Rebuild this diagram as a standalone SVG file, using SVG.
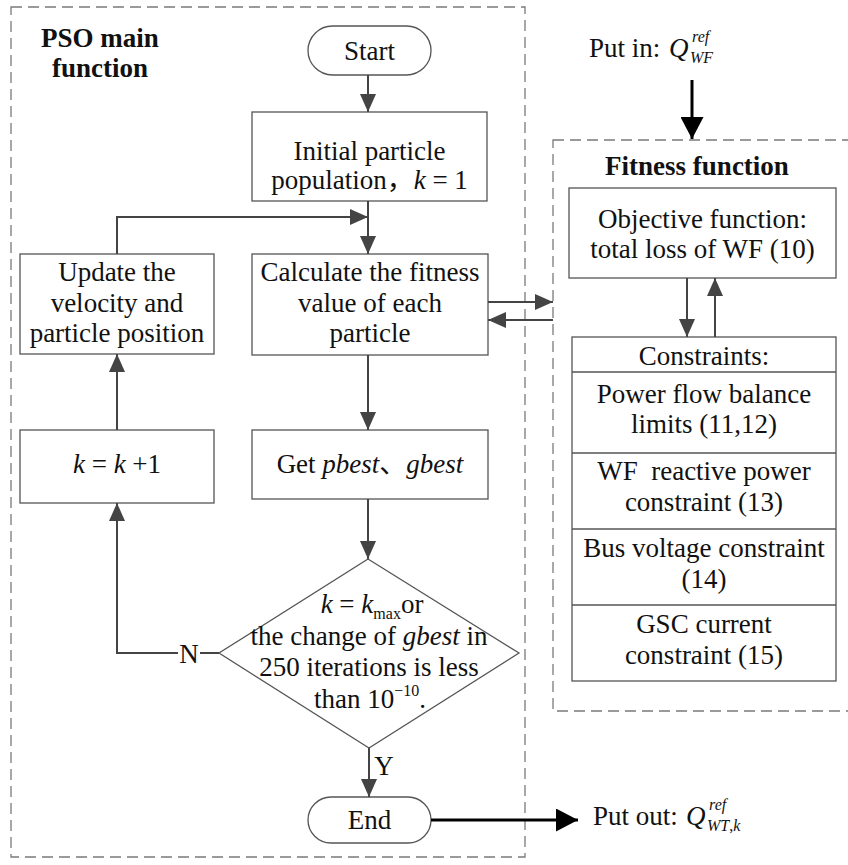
<svg xmlns="http://www.w3.org/2000/svg" width="848" height="865" viewBox="0 0 848 865">
<style>
  .t{font-family:"Liberation Serif","Times New Roman",serif;font-size:27px;fill:#111;text-anchor:middle}
  .s{text-anchor:start}
  .b{font-weight:bold}
  .i{font-style:italic}
  .box{fill:#fff;stroke:#555;stroke-width:1.3}
  .dash{fill:none;stroke:#7a7a7a;stroke-width:1.3;stroke-dasharray:11 6}
  .ln{fill:none;stroke:#444;stroke-width:2}
  .bl{fill:none;stroke:#000;stroke-width:3}
  .sm{font-size:16px}
</style>
<defs>
  <marker id="ah" markerUnits="userSpaceOnUse" markerWidth="18" markerHeight="16" refX="18" refY="8" orient="auto">
    <path d="M0,0 L18,8 L0,16 z" fill="#444"/>
  </marker>
  <marker id="ahb" markerUnits="userSpaceOnUse" markerWidth="22" markerHeight="23" refX="22" refY="11.5" orient="auto">
    <path d="M0,0 L22,11.5 L0,23 z" fill="#000"/>
  </marker>
</defs>

<rect x="0" y="0" width="848" height="865" fill="#fff"/>

<!-- Containers -->
<g id="pso-container">
  <rect class="dash" x="11" y="7" width="514" height="850"/>
  <text class="t b" x="100" y="47">PSO main</text>
  <text class="t b" x="100" y="77">function</text>
</g>
<g id="fitness-container">
  <rect class="dash" x="553" y="140" width="300" height="571"/>
  <text class="t b" x="697" y="175">Fitness function</text>
</g>

<!-- Nodes -->
<g id="start">
  <rect class="box" x="308" y="26" width="123" height="49" rx="24.5"/>
  <text class="t" x="369.5" y="60">Start</text>
</g>
<g id="initial">
  <rect class="box" x="252" y="112" width="235" height="89"/>
  <text class="t" x="369.5" y="160">Initial particle</text>
  <text class="t" x="369.5" y="189" style="font-family:'Liberation Serif','Noto Sans CJK SC',serif">population，<tspan class="i">k</tspan> = 1</text>
</g>
<g id="update">
  <rect class="box" x="20" y="254" width="194" height="100"/>
  <text class="t" x="117" y="281">Update the</text>
  <text class="t" x="117" y="312">velocity and</text>
  <text class="t" x="117" y="342">particle position</text>
</g>
<g id="calculate">
  <rect class="box" x="252" y="254" width="236" height="101"/>
  <text class="t" x="370" y="281">Calculate the fitness</text>
  <text class="t" x="370" y="312">value of each</text>
  <text class="t" x="370" y="342">particle</text>
</g>
<g id="kinc">
  <rect class="box" x="20" y="430" width="194" height="73"/>
  <text class="t" x="117" y="473"><tspan class="i">k</tspan> = <tspan class="i">k</tspan> +1</text>
</g>
<g id="getbest">
  <rect class="box" x="252" y="430" width="236" height="69"/>
  <text class="t" x="370" y="473" style="font-family:'Liberation Serif','Noto Sans CJK SC',serif">Get <tspan class="i">pbest</tspan>、<tspan class="i">gbest</tspan></text>
</g>
<g id="decision">
  <polygon class="box" points="368,559 519,653 369,748 219,653"/>
  <text class="t" x="372" y="613"><tspan class="i">k</tspan> = <tspan class="i">k</tspan><tspan class="sm" dy="6">max</tspan><tspan dy="-6">or</tspan></text>
  <text class="t" x="369" y="645">the change of <tspan class="i">gbest</tspan> in</text>
  <text class="t" x="369" y="676">250 iterations is less</text>
  <text class="t" x="370" y="708">than  10<tspan class="sm" dy="-12">−10</tspan><tspan dy="12">.</tspan></text>
</g>
<g id="end">
  <rect class="box" x="308" y="797" width="123" height="46" rx="23"/>
  <text class="t" x="369.5" y="829">End</text>
</g>
<g id="objective">
  <rect class="box" x="569" y="188" width="267" height="90"/>
  <text class="t" x="702.5" y="228">Objective function:</text>
  <text class="t" x="702.5" y="258">total loss of WF (10)</text>
</g>
<g id="constraints">
  <rect class="box" x="572" y="337" width="264" height="344"/>
  <line class="box" x1="572" y1="372" x2="836" y2="372"/>
  <line class="box" x1="572" y1="453" x2="836" y2="453"/>
  <line class="box" x1="572" y1="529" x2="836" y2="529"/>
  <line class="box" x1="572" y1="605" x2="836" y2="605"/>
  <text class="t" x="704" y="365">Constraints:</text>
  <text class="t" x="704" y="403">Power flow balance</text>
  <text class="t" x="704" y="433">limits (11,12)</text>
  <text class="t" x="704" y="480" style="white-space:pre">WF  reactive power</text>
  <text class="t" x="704" y="511">constraint (13)</text>
  <text class="t" x="704" y="557">Bus voltage constraint</text>
  <text class="t" x="704" y="588">(14)</text>
  <text class="t" x="704" y="633">GSC current</text>
  <text class="t" x="704" y="664">constraint (15)</text>
</g>
<g id="input">
  <text class="t s" x="589" y="57">Put in:</text>
  <text class="t s i" x="669" y="57">Q</text>
  <text class="t s i sm" x="692" y="42">ref</text>
  <text class="t s i sm" x="690" y="63">WF</text>
</g>
<g id="output">
  <text class="t s" x="593" y="825">Put out:</text>
  <text class="t s i" x="686" y="825">Q</text>
  <text class="t s i sm" x="709" y="810">ref</text>
  <text class="t s sm" x="707" y="831"><tspan class="i">WT</tspan>,<tspan class="i">k</tspan></text>
</g>

<!-- Connectors -->
<g id="connectors">
  <path class="ln" d="M368,75 V112" marker-end="url(#ah)"/>
  <path class="ln" d="M368,201 V254" marker-end="url(#ah)"/>
  <path class="ln" d="M117,254 V217 H368" marker-end="url(#ah)"/>
  <path class="ln" d="M488,302 H553" marker-end="url(#ah)"/>
  <path class="ln" d="M553,320 H488" marker-end="url(#ah)"/>
  <path class="ln" d="M368,355 V430" marker-end="url(#ah)"/>
  <path class="ln" d="M368,499 V559" marker-end="url(#ah)"/>
  <path class="ln" d="M219,653 H200"/>
  <path class="ln" d="M178,653 H117 V503" marker-end="url(#ah)"/>
  <text class="t" x="189" y="663">N</text>
  <path class="ln" d="M117,430 V354" marker-end="url(#ah)"/>
  <path class="ln" d="M369,748 V797" marker-end="url(#ah)"/>
  <text class="t" x="384" y="775">Y</text>
  <path class="ln" d="M687,278 V337" marker-end="url(#ah)"/>
  <path class="ln" d="M715,337 V278" marker-end="url(#ah)"/>
  <path class="bl" d="M692,80 V139" marker-end="url(#ahb)"/>
  <path class="bl" d="M431,820 H578" marker-end="url(#ahb)"/>
</g>
</svg>
